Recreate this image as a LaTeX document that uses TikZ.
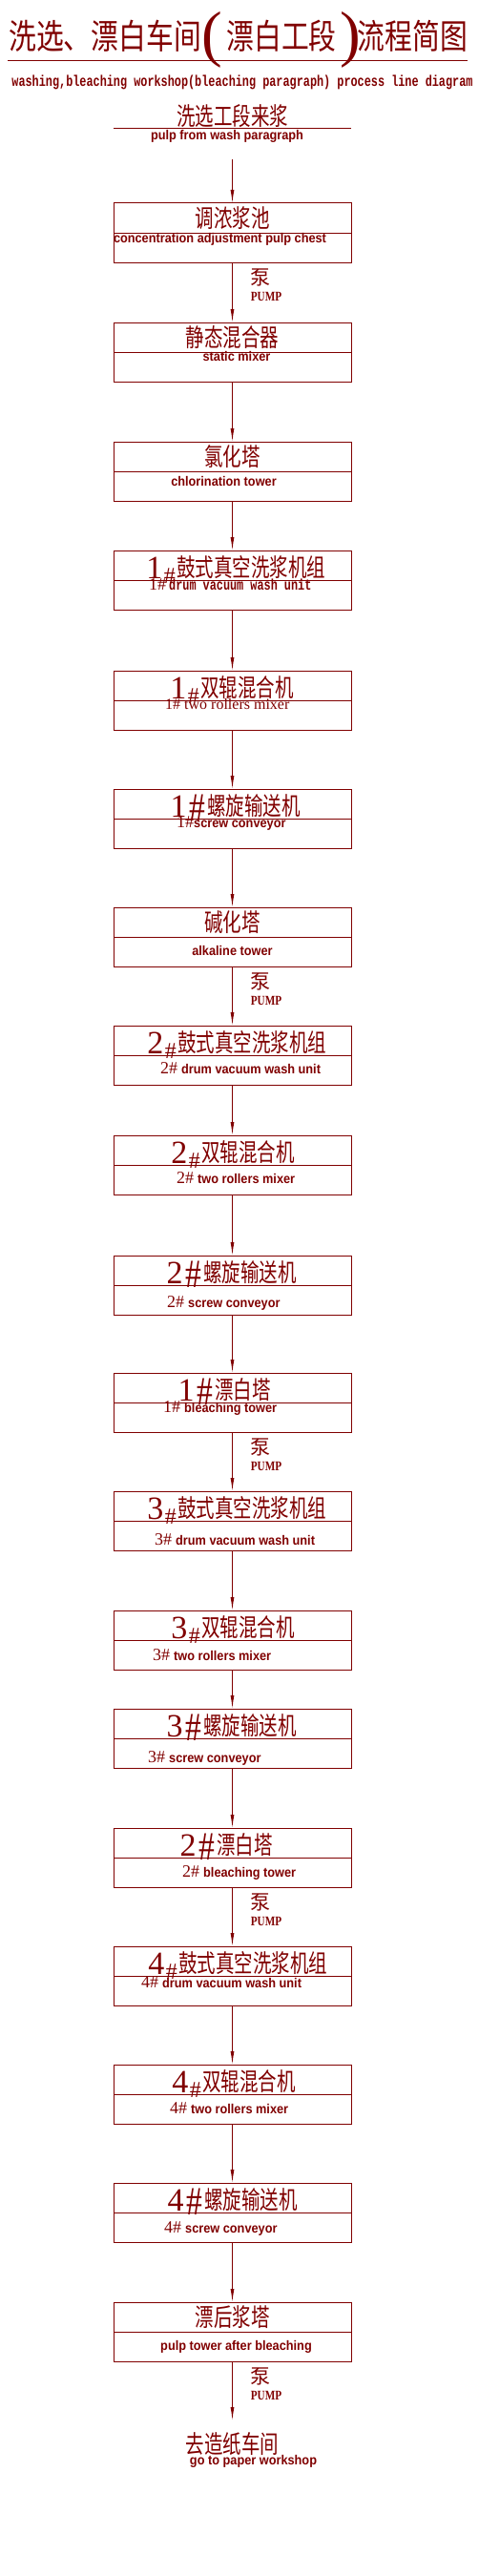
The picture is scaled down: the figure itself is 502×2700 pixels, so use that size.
\documentclass[tikz,border=0pt]{standalone}
\usepackage{fontspec}
\newfontfamily\cjk[FakeStretch=0.75]{Noto Sans CJK SC}
\newfontfamily\cjkt[FakeStretch=0.8]{Noto Sans CJK SC}
\newfontfamily\cjkw{Noto Sans CJK SC}
\newfontfamily\ensans[FakeStretch=0.91]{Liberation Sans}
\newfontfamily\mono[FakeStretch=0.74]{Liberation Mono}
\newfontfamily\serifn{Liberation Serif}
\newfontfamily\serifs[FakeStretch=0.8]{Liberation Serif}
\usetikzlibrary{positioning, calc, arrows.meta}
\definecolor{Wine}{HTML}{800000}
\newcommand\unitno[1]{{\serifn\mdseries\fontsize{18}{18}\selectfont#1\#}}
\tikzset{
    box/.style={rectangle, draw=Wine, line width=1pt, minimum width=249pt, minimum height=62pt,
        inner sep=0pt, outer sep=0pt,
        path picture={\draw[Wine, line width=1pt] (path picture bounding box.west) -- (path picture bounding box.east);}},
    title/.style={text=Wine, inner sep=0pt, font=\cjkt\fontsize{36}{36}\selectfont},
    paren/.style={text=Wine, inner sep=0pt, font=\serifn\fontsize{65}{65}\selectfont},
    sub/.style={text=Wine, inner sep=0pt, font=\mono\bfseries\fontsize{16}{16}\selectfont},
    cn/.style={text=Wine, inner sep=0pt, font=\cjk\fontsize{26}{26}\selectfont},
    en/.style={text=Wine, inner sep=0pt, anchor=mid, font=\ensans\bfseries\fontsize{14}{14}\selectfont},
    num/.style={text=Wine, inner sep=0pt, font=\serifn\fontsize{34}{34}\selectfont},
    hsmall/.style={text=Wine, inner sep=0pt, font=\serifn\fontsize{24}{24}\selectfont},
    hbig/.style={text=Wine, inner sep=0pt, font=\serifs\fontsize{42}{42}\selectfont},
    pump/.style={text=Wine, inner sep=0pt, font=\cjkw\fontsize{21}{21}\selectfont},
    pumpen/.style={text=Wine, inner sep=0pt, font=\serifs\bfseries\fontsize{14}{14}\selectfont},
    rule/.style={draw=Wine, line width=1pt},
    flow/.style={-{Latex[length=14pt, width=4pt]}, draw=Wine, line width=1pt},
}
\begin{document}
\begin{tikzpicture}[x=1pt, y=-1pt]
    \useasboundingbox (0,0) rectangle (502,2700);

    % Title
    \node[title] (t1) at (110,38) {洗选、漂白车间};
    \node[paren] (po) at (222,41.5) {(};
    \node[title] (t2) at (295,38) {漂白工段};
    \node[paren] (pc) at (367,41.5) {)};
    \node[title] (t3) at (432.5,38) {流程简图};
    \draw[rule] (8,64) -- (490,64);
    \node[sub, anchor=base] (sub) at (254,91) {washing,bleaching workshop(bleaching paragraph) process line diagram};

    % Pulp coming in
    \node[cn] (src) at (243.5,122) {洗选工段来浆};
    \draw[rule] (119,135) -- (368,135);
    \node[en] (srcen) at (238,144) {pulp from wash paragraph};
    \coordinate (start) at (243.5,167);

    % 1. Concentration adjustment chest
    \node[box] (b1) at (243.5,244) {};
    \node[cn, below=3pt of b1.north] (c1) {调浓浆池};
    \node[en] (e1) at ($(b1.center)+(-13,8)$) {concentration adjustment pulp chest};
    \node[pump] (p1) at ($(b1.south)+(29.5,16)$) {泵};
    \node[pumpen, below=6pt of p1, xshift=6pt] (q1) {PUMP};

    % 2. Static mixer
    \node[box, below=63pt of b1] (b2) {};
    \node[cn, below=3pt of b2.north] (c2) {静态混合器};
    \node[en] (e2) at ($(b2.center)+(4.5,7)$) {static mixer};

    % 3. Chlorination tower
    \node[box, below=63pt of b2] (b3) {};
    \node[cn, below=3pt of b3.north] (c3) {氯化塔};
    \node[en] (e3) at ($(b3.center)+(-9,13)$) {chlorination tower};

    % 4. 1# drum washer
    \node[box, below=52pt of b3] (b4) {};
    \node[cn, anchor=base west] (c4) at ($(b4.center)+(-58.5,-4)$) {鼓式真空洗浆机组};
    \node[hsmall, left=1pt of c4.base west, anchor=base east, yshift=-7pt] (h4) {\#};
    \node[num, left=1pt of h4.base west, anchor=base east, yshift=5pt] (n4) {1};
    \node[en, anchor=mid west] (e4) at ($(b4.center)+(-87.5,8)$) {\unitno{1}\hspace{3pt}{\mono\fontsize{16}{16}\selectfont drum vacuum wash unit}};

    % 5. 1# two rollers mixer
    \node[box, below=64pt of b4] (b5) {};
    \node[cn, anchor=base west] (c5) at ($(b5.center)+(-33.5,-4)$) {双辊混合机};
    \node[hsmall, left=1pt of c5.base west, anchor=base east, yshift=-7pt] (h5) {\#};
    \node[num, left=1pt of h5.base west, anchor=base east, yshift=5pt] (n5) {1};
    \node[en, anchor=mid west] (e5) at ($(b5.center)+(-70.5,7)$) {\serifn\mdseries\fontsize{16}{16}\selectfont 1\# two rollers mixer};

    % 6. 1# screw conveyor
    \node[box, below=62pt of b5] (b6) {};
    \node[cn, anchor=base west] (c6) at ($(b6.center)+(-26.5,-4)$) {螺旋输送机};
    \node[hbig, left=2pt of c6.base west, anchor=base east, yshift=-6pt] (h6) {\#};
    \node[num, left=2pt of h6.base west, anchor=base east, yshift=4pt] (n6) {1};
    \node[en, anchor=mid west] (e6) at ($(b6.center)+(-58.5,7)$) {\unitno{1}screw conveyor};

    % 7. Alkaline tower
    \node[box, below=62pt of b6] (b7) {};
    \node[cn, below=3pt of b7.north] (c7) {碱化塔};
    \node[en] (e7) at ($(b7.center)+(0,17)$) {alkaline tower};
    \node[pump] (p2) at ($(b7.south)+(29.5,16)$) {泵};
    \node[pumpen, below=6pt of p2, xshift=6pt] (q2) {PUMP};

    % 8. 2# drum washer
    \node[box, below=62pt of b7] (b8) {};
    \node[cn, anchor=base west] (c8) at ($(b8.center)+(-57.5,-4)$) {鼓式真空洗浆机组};
    \node[hsmall, left=1pt of c8.base west, anchor=base east, yshift=-7pt] (h8) {\#};
    \node[num, left=1pt of h8.base west, anchor=base east, yshift=5pt] (n8) {2};
    \node[en, anchor=mid west] (e8) at ($(b8.center)+(-75.5,17)$) {\unitno{2}\hspace{4pt}drum vacuum wash unit};

    % 9. 2# two rollers mixer
    \node[box, below=53pt of b8] (b9) {};
    \node[cn, anchor=base west] (c9) at ($(b9.center)+(-32.5,-4)$) {双辊混合机};
    \node[hsmall, left=1pt of c9.base west, anchor=base east, yshift=-7pt] (h9) {\#};
    \node[num, left=1pt of h9.base west, anchor=base east, yshift=5pt] (n9) {2};
    \node[en, anchor=mid west] (e9) at ($(b9.center)+(-58.5,17)$) {\unitno{2}\hspace{4pt}two rollers mixer};

    % 10. 2# screw conveyor
    \node[box, below=64pt of b9] (b10) {};
    \node[cn, anchor=base west] (c10) at ($(b10.center)+(-30.5,-4)$) {螺旋输送机};
    \node[hbig, left=2pt of c10.base west, anchor=base east, yshift=-6pt] (h10) {\#};
    \node[num, left=2pt of h10.base west, anchor=base east, yshift=4pt] (n10) {2};
    \node[en, anchor=mid west] (e10) at ($(b10.center)+(-68.5,21)$) {\unitno{2}\hspace{4pt}screw conveyor};

    % 11. 1# bleaching tower
    \node[box, below=61pt of b10] (b11) {};
    \node[cn, anchor=base west] (c11) at ($(b11.center)+(-18.5,-4)$) {漂白塔};
    \node[hbig, left=2pt of c11.base west, anchor=base east, yshift=-6pt] (h11) {\#};
    \node[num, left=2pt of h11.base west, anchor=base east, yshift=4pt] (n11) {1};
    \node[en, anchor=mid west] (e11) at ($(b11.center)+(-72.5,8)$) {\unitno{1}\hspace{4pt}bleaching tower};
    \node[pump] (p3) at ($(b11.south)+(29.5,16)$) {泵};
    \node[pumpen, below=6pt of p3, xshift=6pt] (q3) {PUMP};

    % 12. 3# drum washer
    \node[box, below=62pt of b11] (b12) {};
    \node[cn, anchor=base west] (c12) at ($(b12.center)+(-57.5,-4)$) {鼓式真空洗浆机组};
    \node[hsmall, left=1pt of c12.base west, anchor=base east, yshift=-7pt] (h12) {\#};
    \node[num, left=1pt of h12.base west, anchor=base east, yshift=5pt] (n12) {3};
    \node[en, anchor=mid west] (e12) at ($(b12.center)+(-81.5,23)$) {\unitno{3}\hspace{4pt}drum vacuum wash unit};

    % 13. 3# two rollers mixer
    \node[box, below=63pt of b12] (b13) {};
    \node[cn, anchor=base west] (c13) at ($(b13.center)+(-32.5,-4)$) {双辊混合机};
    \node[hsmall, left=1pt of c13.base west, anchor=base east, yshift=-7pt] (h13) {\#};
    \node[num, left=1pt of h13.base west, anchor=base east, yshift=5pt] (n13) {3};
    \node[en, anchor=mid west] (e13) at ($(b13.center)+(-83.5,19)$) {\unitno{3}\hspace{4pt}two rollers mixer};

    % 14. 3# screw conveyor
    \node[box, below=41pt of b13] (b14) {};
    \node[cn, anchor=base west] (c14) at ($(b14.center)+(-30.5,-4)$) {螺旋输送机};
    \node[hbig, left=2pt of c14.base west, anchor=base east, yshift=-6pt] (h14) {\#};
    \node[num, left=2pt of h14.base west, anchor=base east, yshift=4pt] (n14) {3};
    \node[en, anchor=mid west] (e14) at ($(b14.center)+(-88.5,23)$) {\unitno{3}\hspace{4pt}screw conveyor};

    % 15. 2# bleaching tower
    \node[box, below=63pt of b14] (b15) {};
    \node[cn, anchor=base west] (c15) at ($(b15.center)+(-16.5,-4)$) {漂白塔};
    \node[hbig, left=2pt of c15.base west, anchor=base east, yshift=-6pt] (h15) {\#};
    \node[num, left=2pt of h15.base west, anchor=base east, yshift=4pt] (n15) {2};
    \node[en, anchor=mid west] (e15) at ($(b15.center)+(-52.5,18)$) {\unitno{2}\hspace{4pt}bleaching tower};
    \node[pump] (p4) at ($(b15.south)+(29.5,16)$) {泵};
    \node[pumpen, below=6pt of p4, xshift=6pt] (q4) {PUMP};

    % 16. 4# drum washer
    \node[box, below=62pt of b15] (b16) {};
    \node[cn, anchor=base west] (c16) at ($(b16.center)+(-56.5,-4)$) {鼓式真空洗浆机组};
    \node[hsmall, left=1pt of c16.base west, anchor=base east, yshift=-7pt] (h16) {\#};
    \node[num, left=1pt of h16.base west, anchor=base east, yshift=5pt] (n16) {4};
    \node[en, anchor=mid west] (e16) at ($(b16.center)+(-95.5,10)$) {\unitno{4}\hspace{4pt}drum vacuum wash unit};

    % 17. 4# two rollers mixer
    \node[box, below=62pt of b16] (b17) {};
    \node[cn, anchor=base west] (c17) at ($(b17.center)+(-31.5,-4)$) {双辊混合机};
    \node[hsmall, left=1pt of c17.base west, anchor=base east, yshift=-7pt] (h17) {\#};
    \node[num, left=1pt of h17.base west, anchor=base east, yshift=5pt] (n17) {4};
    \node[en, anchor=mid west] (e17) at ($(b17.center)+(-65.5,18)$) {\unitno{4}\hspace{4pt}two rollers mixer};

    % 18. 4# screw conveyor
    \node[box, below=62pt of b17] (b18) {};
    \node[cn, anchor=base west] (c18) at ($(b18.center)+(-29.5,-4)$) {螺旋输送机};
    \node[hbig, left=2pt of c18.base west, anchor=base east, yshift=-6pt] (h18) {\#};
    \node[num, left=2pt of h18.base west, anchor=base east, yshift=4pt] (n18) {4};
    \node[en, anchor=mid west] (e18) at ($(b18.center)+(-71.5,19)$) {\unitno{4}\hspace{4pt}screw conveyor};

    % 19. Pulp tower after bleaching
    \node[box, below=63pt of b18] (b19) {};
    \node[cn, below=3pt of b19.north] (c19) {漂后浆塔};
    \node[en] (e19) at ($(b19.center)+(4,17)$) {pulp tower after bleaching};
    \node[pump] (p5) at ($(b19.south)+(29.5,16)$) {泵};
    \node[pumpen, below=6pt of p5, xshift=6pt] (q5) {PUMP};

    % Out to the paper workshop
    \coordinate (end) at ($(b19.south)+(0,62)$);
    \node[cn, below=12pt of end] (dst) {去造纸车间};
    \node[en, below=0pt of dst, xshift=22pt] (dsten) {go to paper workshop};

    % Flow
    \draw[flow] (start) -- (b1.north);
    \draw[flow] (b1.south) -- (b2.north);
    \draw[flow] (b2.south) -- (b3.north);
    \draw[flow] (b3.south) -- (b4.north);
    \draw[flow] (b4.south) -- (b5.north);
    \draw[flow] (b5.south) -- (b6.north);
    \draw[flow] (b6.south) -- (b7.north);
    \draw[flow] (b7.south) -- (b8.north);
    \draw[flow] (b8.south) -- (b9.north);
    \draw[flow] (b9.south) -- (b10.north);
    \draw[flow] (b10.south) -- (b11.north);
    \draw[flow] (b11.south) -- (b12.north);
    \draw[flow] (b12.south) -- (b13.north);
    \draw[flow] (b13.south) -- (b14.north);
    \draw[flow] (b14.south) -- (b15.north);
    \draw[flow] (b15.south) -- (b16.north);
    \draw[flow] (b16.south) -- (b17.north);
    \draw[flow] (b17.south) -- (b18.north);
    \draw[flow] (b18.south) -- (b19.north);
    \draw[flow] (b19.south) -- (end);
\end{tikzpicture}
\end{document}
